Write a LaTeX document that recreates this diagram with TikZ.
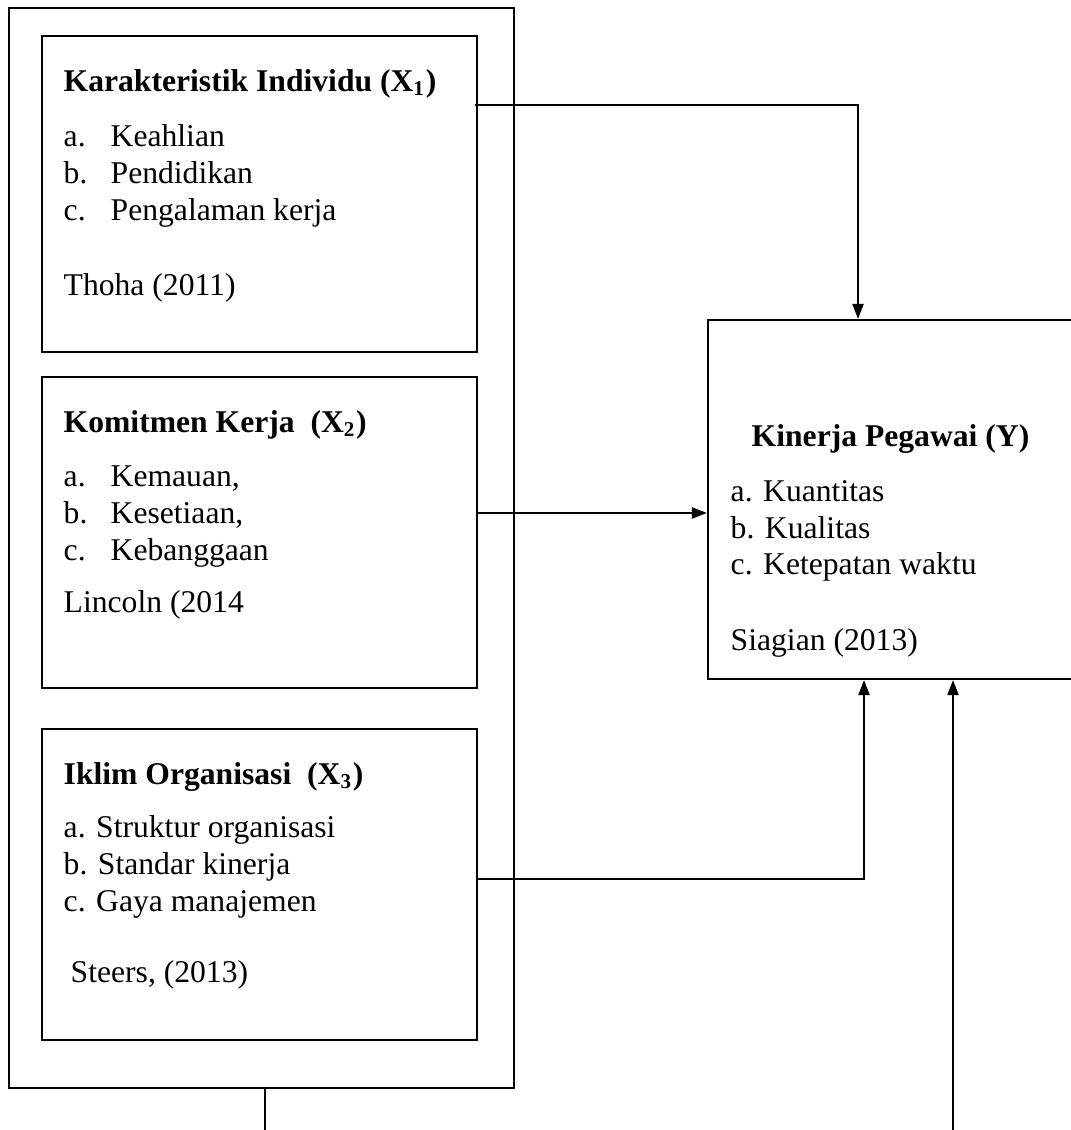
\documentclass[tikz,border=0pt]{standalone}
\usepackage{fontspec}
\setmainfont{Liberation Serif}
\usetikzlibrary{arrows.meta}
\newcommand{\butir}[2]{\makebox[0.47cm][l]{#1}#2}

\begin{document}
\begin{tikzpicture}[kotak/.style={rectangle, draw=black, line width=0.6pt, inner sep=0pt},
		judul/.style={anchor=base west, inner sep=0pt, font=\fontsize{9}{10.4}\selectfont\bfseries},
		teks/.style={anchor=base west, inner sep=0pt, font=\fontsize{9}{10.4}\selectfont},
		garis/.style={line width=0.6pt},
		panah/.style={line width=0.6pt, -{Triangle[length=0.15cm, width=0.11cm]}}]
	\useasboundingbox (0,0) rectangle (10.7,11.3);

	% kotak-kotak
	\node[kotak, minimum width=5.05cm, minimum height=10.80cm] (luar) at (2.615,5.82) {};
	\node[kotak, minimum width=4.35cm, minimum height=3.16cm] (x1) at (2.595,9.36) {};
	\node[kotak, minimum width=4.35cm, minimum height=3.11cm] (x2) at (2.595,5.975) {};
	\node[kotak, minimum width=4.35cm, minimum height=3.11cm] (x3) at (2.595,2.455) {};
	\node[kotak, minimum width=3.72cm, minimum height=3.59cm] (y) at (8.94,6.305) {};

	% X1
	\node[judul] (x1j) at (0.63,10.38) {Karakteristik Individu (X\textsubscript{1})};
	\foreach \h/\t [count=\i] in {a./Keahlian, b./Pendidikan, c./Pengalaman kerja}
		\node[teks] (x1i\i) at (0.63,{9.83-(\i-1)*0.367}) {\butir{\h}{\t}};
	\node[teks] (x1s) at (0.63,8.34) {Thoha (2011)};

	% X2
	\node[judul] (x2j) at (0.63,6.97) {Komitmen Kerja \ (X\textsubscript{2})};
	\foreach \h/\t [count=\i] in {a./{Kemauan,}, b./{Kesetiaan,}, c./Kebanggaan}
		\node[teks] (x2i\i) at (0.63,{6.43-(\i-1)*0.37}) {\butir{\h}{\t}};
	\node[teks] (x2s) at (0.63,5.17) {Lincoln (2014};

	% X3
	\node[judul] (x3j) at (0.63,3.45) {Iklim Organisasi \ (X\textsubscript{3})};
	\foreach \t [count=\i] in {a. Struktur organisasi, b. Standar kinerja, c. Gaya manajemen}
		\node[teks] (x3i\i) at (0.63,{2.92-(\i-1)*0.37}) {\t};
	\node[teks] (x3s) at (0.70,1.47) {Steers, (2013)};

	% Y
	\node[judul] (yj) at (7.51,6.83) {Kinerja Pegawai (Y)};
	\foreach \t [count=\i] in {a. Kuantitas, b. Kualitas, c. Ketepatan waktu}
		\node[teks] (yi\i) at (7.30,{6.28-(\i-1)*0.365}) {\t};
	\node[teks] (ys) at (7.30,4.79) {Siagian (2013)};

	% garis penghubung
	\coordinate (k1) at ([xshift=-0.03cm, yshift=0.89cm]x1.east);
	\coordinate (k2) at ([yshift=0.195cm]x2.east);
	\coordinate (k3) at ([yshift=0.055cm]x3.east);
	\coordinate (bawah1) at (2.65,0);
	\coordinate (bawah2) at (9.53,0);

	\draw[panah] (k1) -| ([xshift=-0.36cm]y.north);
	\draw[panah] (k2) -- (k2 -| y.west);
	\draw[panah] (k3) -| ([xshift=-0.30cm]y.south);
	\draw[panah] (bawah2) -- (bawah2 |- y.south);
	\draw[garis] (bawah1 |- luar.south) -- (bawah1);
\end{tikzpicture}
\end{document}
